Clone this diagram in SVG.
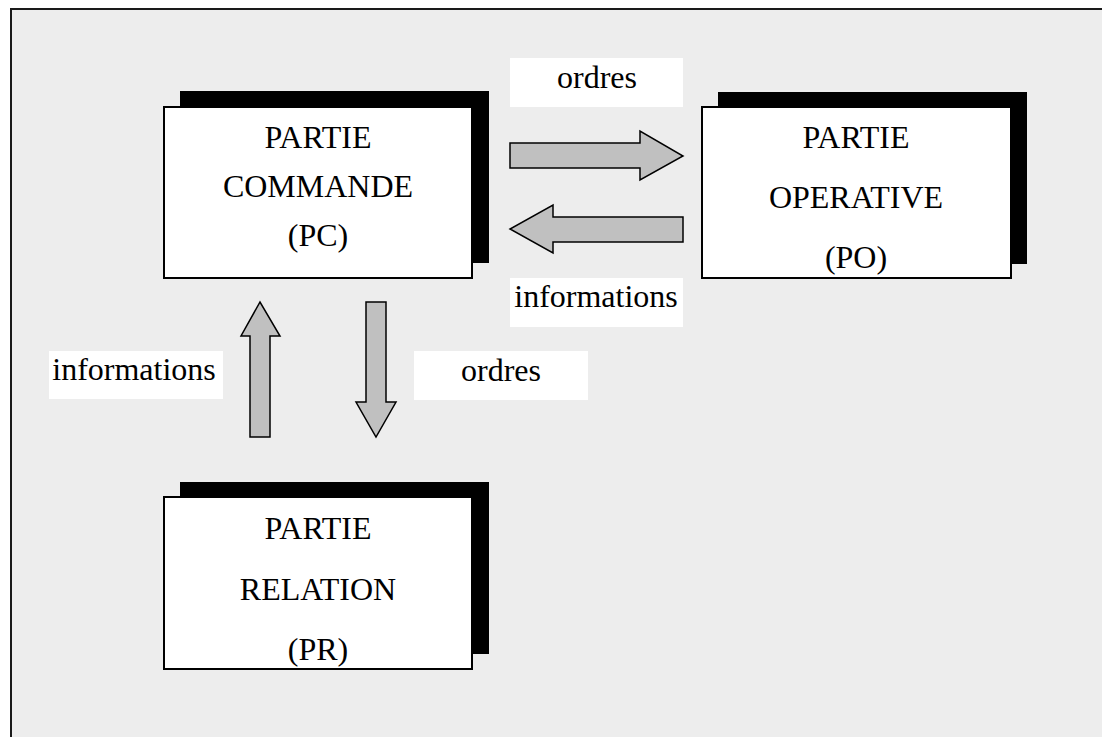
<svg xmlns="http://www.w3.org/2000/svg" width="1102" height="737" viewBox="0 0 1102 737">
<style>
.bg{fill:#ededed;stroke:#1a1a1a;stroke-width:2}
.sh{fill:#000}
.box{fill:#fff;stroke:#000;stroke-width:2}
.lbl{fill:#fff}
.arr{fill:#c0c0c0;stroke:#000;stroke-width:1.5;stroke-linejoin:miter}
text{font-family:"Liberation Serif","Times New Roman",serif;font-size:32px;fill:#000;text-anchor:middle}
</style>
<rect class="bg" x="11" y="9" width="1100" height="740"/>
<g id="pc">
<rect class="sh" x="180" y="91" width="309" height="172"/>
<rect class="box" x="164" y="107" width="308" height="171"/>
<text x="318" y="148">PARTIE</text>
<text x="318" y="197">COMMANDE</text>
<text x="318" y="246">(PC)</text>
</g>
<g id="po">
<rect class="sh" x="718" y="92" width="309" height="172"/>
<rect class="box" x="702" y="107" width="309" height="171"/>
<text x="856" y="148">PARTIE</text>
<text x="856" y="208">OPERATIVE</text>
<text x="856" y="268">(PO)</text>
</g>
<g id="pr">
<rect class="sh" x="180" y="482" width="309" height="172"/>
<rect class="box" x="164" y="497" width="308" height="172"/>
<text x="318" y="539">PARTIE</text>
<text x="318" y="600">RELATION</text>
<text x="318" y="660">(PR)</text>
</g>
<g id="connectors">
<polygon class="arr" points="510,143 640,143 640,131 683,156 640,180 640,168 510,168"/>
<polygon class="arr" points="683,217 553,217 553,205 510,229 553,253 553,242 683,242"/>
<polygon class="arr" points="250,437 250,336 241,336 260,302 280,336 270,336 270,437"/>
<polygon class="arr" points="366,302 386,302 386,402 396,402 376,437 356,402 366,402"/>
</g>
<g id="labels">
<rect class="lbl" x="510" y="58" width="173" height="49"/>
<text x="597" y="88">ordres</text>
<rect class="lbl" x="510" y="278" width="173" height="49"/>
<text x="596" y="307">informations</text>
<rect class="lbl" x="49" y="351" width="174" height="48"/>
<text x="134" y="380">informations</text>
<rect class="lbl" x="414" y="351" width="174" height="49"/>
<text x="501" y="381">ordres</text>
</g>
</svg>
